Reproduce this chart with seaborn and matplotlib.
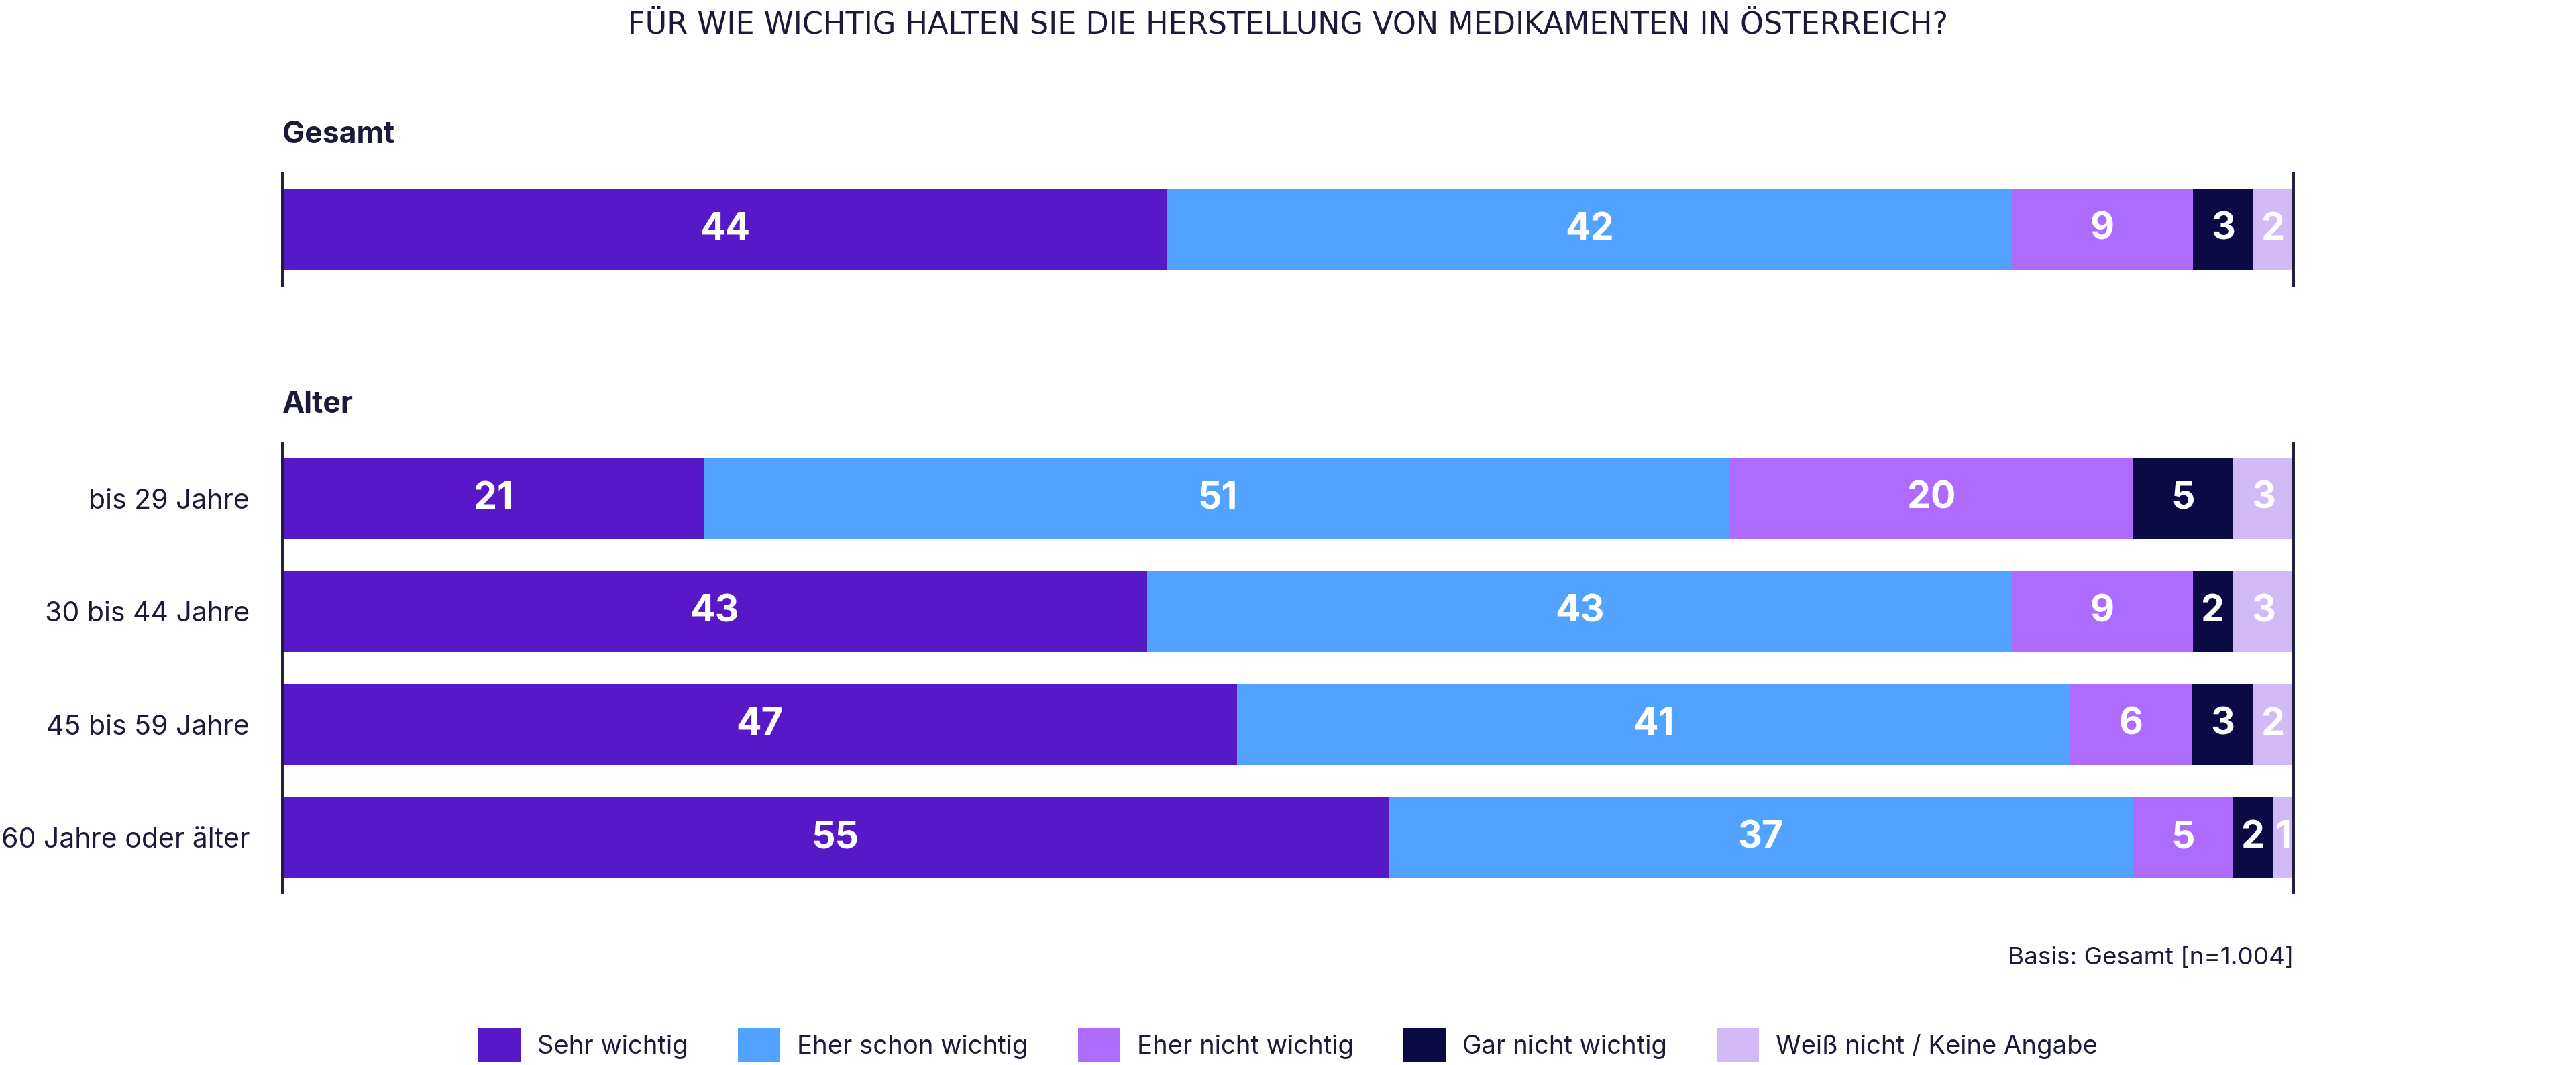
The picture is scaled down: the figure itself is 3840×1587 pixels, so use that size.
import seaborn as sns
import matplotlib.pyplot as plt
import pandas as pd
import numpy as np
from matplotlib.patches import Patch

title = 'FÜR WIE WICHTIG HALTEN SIE DIE HERSTELLUNG VON MEDIKAMENTEN IN ÖSTERREICH?'
answers = ['Sehr wichtig', 'Eher schon wichtig', 'Eher nicht wichtig',
           'Gar nicht wichtig', 'Weiß nicht / Keine Angabe']
colors = ['#5719C8', '#52A3FF', '#AE6CFF', '#0B0A45', '#D1BAF5']

# Gesamt
total_groups = ['Gesamt']
total_sehr = [44]
total_eher_schon = [42]
total_eher_nicht = [9]
total_gar_nicht = [3]
total_weiss = [2]

# Alter
age_groups = ['bis 29 Jahre', '30 bis 44 Jahre', '45 bis 59 Jahre', '60 Jahre oder älter']
age_sehr = [21, 43, 47, 55]
age_eher_schon = [51, 43, 41, 37]
age_eher_nicht = [20, 9, 6, 5]
age_gar_nicht = [5, 2, 3, 2]
age_weiss = [3, 3, 2, 1]

navy = '#1B1A3A'

sns.set_theme(style='white')
plt.rcParams['font.family'] = ['Inter', 'DejaVu Sans']


def stacked(ax, groups, cols):
    df = pd.DataFrame(dict(zip(answers, cols)), index=groups)
    share = df.div(df.sum(axis=1), axis=0) * 100
    cum = share.cumsum(axis=1)
    d = cum.reset_index(names='group')
    # draw longest first so each shorter bar sits on top
    for i in reversed(range(len(answers))):
        sns.barplot(data=d, x=answers[i], y='group', color=colors[i], orient='h',
                    width=0.71, saturation=1, errorbar=None, linewidth=0, ax=ax)
    mid = cum - share / 2
    for j, g in enumerate(groups):
        for a in answers:
            ax.text(mid.loc[g, a], j, str(df.loc[g, a]), ha='center', va='center',
                    color='white', fontsize=40, fontweight='bold')
    ax.set_xlim(0, 100)
    ax.set_xticks([])
    ax.set_xlabel('')
    ax.set_ylabel('')
    for s in ['top', 'bottom']:
        ax.spines[s].set_visible(False)
    for s in ['left', 'right']:
        ax.spines[s].set_color(navy)
        ax.spines[s].set_linewidth(2.8)
    ax.tick_params(axis='y', length=0, pad=35, labelsize=29.5, labelcolor=navy)


fig = plt.figure(figsize=(38.4, 15.87), dpi=100)
ax1 = fig.add_axes([0.1096, 0.7316, 0.7807, 0.1059])
ax2 = fig.add_axes([0.1096, 0.1619, 0.7807, 0.4216])

stacked(ax1, total_groups, [total_sehr, total_eher_schon, total_eher_nicht, total_gar_nicht, total_weiss])
ax1.set_ylim(0.4985, -0.4985)
ax1.set_yticklabels([])

stacked(ax2, age_groups, [age_sehr, age_eher_schon, age_eher_nicht, age_gar_nicht, age_weiss])
ax2.set_ylim(3.485, -0.485)

fig.text(0.5, 0.9767, title, ha='center', va='center', fontsize=32, color=navy,
         family=['DejaVu Sans'])
fig.text(0.1096, 0.8658, 'Gesamt', ha='left', va='baseline', fontsize=32,
         fontweight='bold', color=navy)
fig.text(0.1096, 0.6125, 'Alter', ha='left', va='baseline', fontsize=32,
         fontweight='bold', color=navy)
fig.text(0.8903, 0.1002, 'Basis: Gesamt [n=1.004]', ha='right', va='center',
         fontsize=26.5, color=navy)

handles = [Patch(facecolor=c, edgecolor='none') for c in colors]
fig.legend(handles, answers, loc='center', bbox_to_anchor=(0.5, 0.0185), ncol=5,
           frameon=False, fontsize=27.5, handlelength=1.65, handleheight=1.65,
           handletextpad=0.65, columnspacing=1.95, borderpad=0, labelcolor=navy)

fig.savefig('out.png', dpi=100)
